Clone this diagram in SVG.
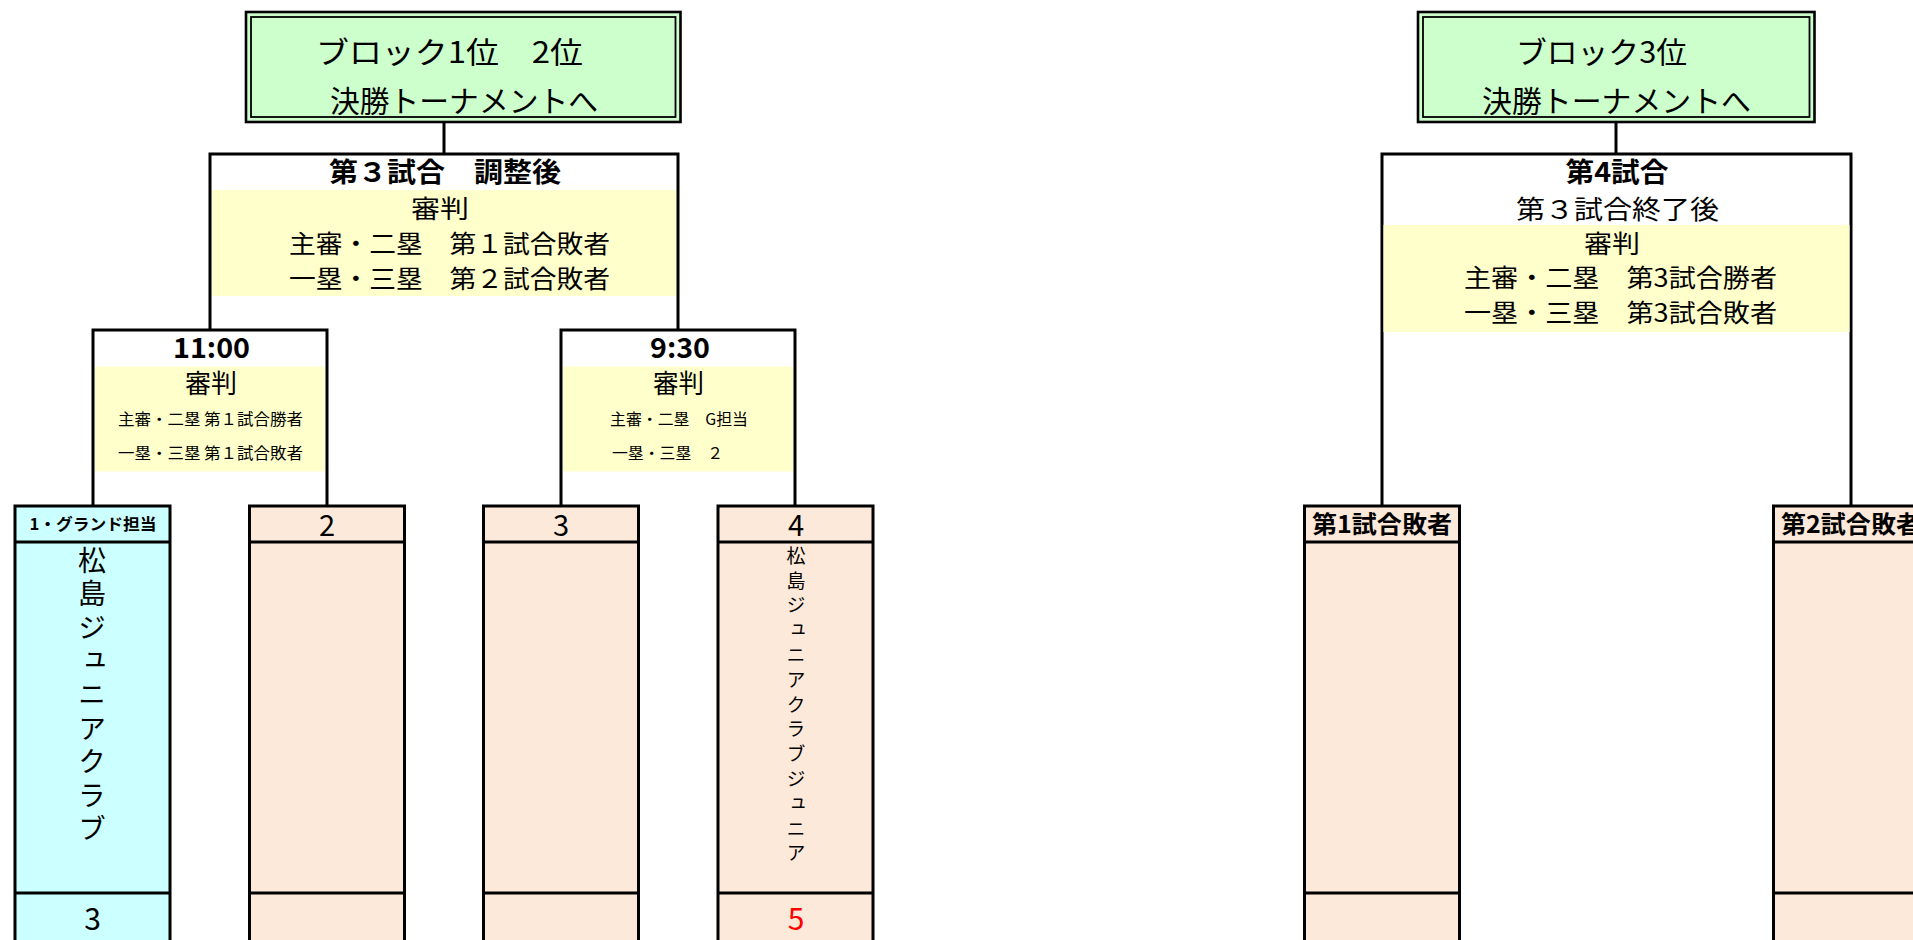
<svg xmlns="http://www.w3.org/2000/svg" width="1913" height="940" viewBox="0 0 1913 940">
<style>
.t{font-family:'Noto Sans CJK JP','Noto Sans CJK SC',sans-serif;fill:#000}
.b{font-weight:700}
.ln{stroke:#000;stroke-width:3;fill:none}
.go{fill:#CCFFCC;stroke:#000;stroke-width:2.6}
.gi{fill:none;stroke:#000;stroke-width:1.8}
.ye{fill:#FFFFCC}
.pe{fill:#FDE9D9;stroke:#000;stroke-width:3}
.cy{fill:#CCFFFF;stroke:#000;stroke-width:3}
.v{writing-mode:vertical-rl;text-orientation:upright}
</style>
<rect width="1913" height="940" fill="#fff"/>
<g id="connectors">
<line class="ln" x1="444" y1="122" x2="444" y2="154"/>
<line class="ln" x1="1616" y1="122" x2="1616" y2="154"/>
<path class="ln" d="M210,330 V154 H678 V330"/>
<path class="ln" d="M93,506 V330 H327 V506"/>
<path class="ln" d="M561,506 V330 H795 V506"/>
<path class="ln" d="M1382,506 V154 H1851 V506"/>
</g>
<g id="final12">
<rect class="go" x="246" y="12" width="434.5" height="110"/>
<rect class="gi" x="251" y="17" width="424.5" height="100"/>
<text class="t" x="316" y="63" font-size="30" textLength="267" lengthAdjust="spacingAndGlyphs">ブロック1位　2位</text>
<text class="t" x="330" y="112" font-size="30" textLength="268" lengthAdjust="spacingAndGlyphs">決勝トーナメントへ</text>
</g>
<g id="final3">
<rect class="go" x="1418" y="12" width="396.5" height="110"/>
<rect class="gi" x="1423" y="17" width="386.5" height="100"/>
<text class="t" x="1516" y="63" font-size="30" textLength="171" lengthAdjust="spacingAndGlyphs">ブロック3位</text>
<text class="t" x="1482" y="112" font-size="30" textLength="269" lengthAdjust="spacingAndGlyphs">決勝トーナメントへ</text>
</g>
<g id="match3">
<rect class="ye" x="212" y="190" width="464" height="106"/>
<text class="t b" x="329" y="182" font-size="27" textLength="232" lengthAdjust="spacingAndGlyphs">第３試合　調整後</text>
<text class="t" x="411" y="218" font-size="25" textLength="58" lengthAdjust="spacingAndGlyphs">審判</text>
<text class="t" x="289" y="253" font-size="25" textLength="321" lengthAdjust="spacingAndGlyphs">主審・二塁　第１試合敗者</text>
<text class="t" x="289" y="288" font-size="25" textLength="321" lengthAdjust="spacingAndGlyphs">一塁・三塁　第２試合敗者</text>
</g>
<g id="match1">
<rect class="ye" x="95" y="366.5" width="230" height="105"/>
<text class="t b" x="211.5" y="358" font-size="28" text-anchor="middle" textLength="77" lengthAdjust="spacingAndGlyphs">11:00</text>
<text class="t" x="185" y="393" font-size="26" textLength="52" lengthAdjust="spacingAndGlyphs">審判</text>
<text class="t" x="118" y="425" font-size="15.5" textLength="185" lengthAdjust="spacingAndGlyphs">主審・二塁 第１試合勝者</text>
<text class="t" x="118" y="459" font-size="15.5" textLength="185" lengthAdjust="spacingAndGlyphs">一塁・三塁 第１試合敗者</text>
</g>
<g id="match2">
<rect class="ye" x="563" y="366.5" width="230" height="105"/>
<text class="t b" x="680" y="358" font-size="28" text-anchor="middle" textLength="60" lengthAdjust="spacingAndGlyphs">9:30</text>
<text class="t" x="653" y="393" font-size="26" textLength="51" lengthAdjust="spacingAndGlyphs">審判</text>
<text class="t" x="610" y="425" font-size="15.5" textLength="138" lengthAdjust="spacingAndGlyphs">主審・二塁　G担当</text>
<text class="t" x="612" y="459" font-size="15.5" textLength="111" lengthAdjust="spacingAndGlyphs">一塁・三塁　２</text>
</g>
<g id="match4">
<rect class="ye" x="1383.5" y="225" width="466" height="107"/>
<text class="t b" x="1617" y="182" font-size="27" text-anchor="middle" textLength="103" lengthAdjust="spacingAndGlyphs">第4試合</text>
<text class="t" x="1516" y="219" font-size="26" textLength="203" lengthAdjust="spacingAndGlyphs">第３試合終了後</text>
<text class="t" x="1584" y="253" font-size="25" textLength="56" lengthAdjust="spacingAndGlyphs">審判</text>
<text class="t" x="1464" y="287" font-size="25" textLength="313" lengthAdjust="spacingAndGlyphs">主審・二塁　第3試合勝者</text>
<text class="t" x="1464" y="322" font-size="25" textLength="313" lengthAdjust="spacingAndGlyphs">一塁・三塁　第3試合敗者</text>
</g>
<g id="team1">
<rect class="cy" x="15" y="506" width="155" height="460"/>
<line class="ln" x1="15" y1="542" x2="170" y2="542"/>
<line class="ln" x1="15" y1="893" x2="170" y2="893"/>
<text class="t b" x="93" y="530" font-size="16" text-anchor="middle" textLength="127" lengthAdjust="spacingAndGlyphs">1・グランド担当</text>
<text class="t v" x="92" y="546" font-size="28" letter-spacing="5.6">松島ジュニアクラブ</text>
<text class="t" x="92.5" y="930" font-size="30" text-anchor="middle">3</text>
</g>
<g id="team2">
<rect class="pe" x="249.5" y="506" width="155" height="460"/>
<line class="ln" x1="249.5" y1="542" x2="404.5" y2="542"/>
<line class="ln" x1="249.5" y1="893" x2="404.5" y2="893"/>
<text class="t" x="327" y="536" font-size="29" text-anchor="middle">2</text>
</g>
<g id="team3">
<rect class="pe" x="483.5" y="506" width="155" height="460"/>
<line class="ln" x1="483.5" y1="542" x2="638.5" y2="542"/>
<line class="ln" x1="483.5" y1="893" x2="638.5" y2="893"/>
<text class="t" x="561" y="536" font-size="29" text-anchor="middle">3</text>
</g>
<g id="team4">
<rect class="pe" x="718" y="506" width="155" height="460"/>
<line class="ln" x1="718" y1="542" x2="873" y2="542"/>
<line class="ln" x1="718" y1="893" x2="873" y2="893"/>
<text class="t" x="796" y="536" font-size="29" text-anchor="middle">4</text>
<text class="t v" x="796" y="546" font-size="19" letter-spacing="5.8">松島ジュニアクラブジュニア</text>
<text class="t" x="796" y="930" font-size="30" text-anchor="middle" style="fill:#FF0000">5</text>
</g>
<g id="teamA">
<rect class="pe" x="1304.5" y="506" width="155" height="460"/>
<line class="ln" x1="1304.5" y1="542" x2="1459.5" y2="542"/>
<line class="ln" x1="1304.5" y1="893" x2="1459.5" y2="893"/>
<text class="t b" x="1382" y="533" font-size="24" text-anchor="middle" textLength="140" lengthAdjust="spacingAndGlyphs">第1試合敗者</text>
</g>
<g id="teamB">
<rect class="pe" x="1773.5" y="506" width="155" height="460"/>
<line class="ln" x1="1773.5" y1="542" x2="1928.5" y2="542"/>
<line class="ln" x1="1773.5" y1="893" x2="1928.5" y2="893"/>
<text class="t b" x="1851" y="533" font-size="24" text-anchor="middle" textLength="140" lengthAdjust="spacingAndGlyphs">第2試合敗者</text>
</g>
</svg>
